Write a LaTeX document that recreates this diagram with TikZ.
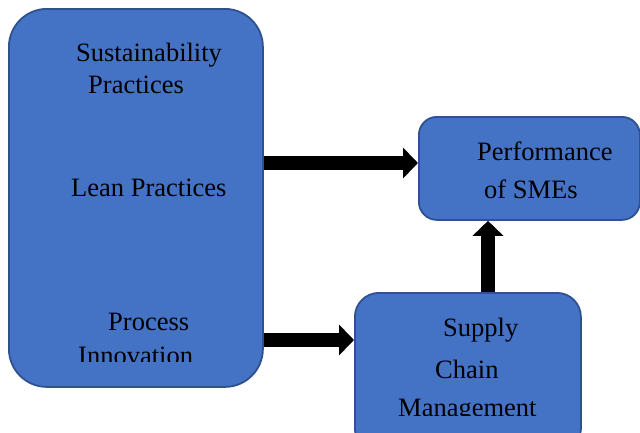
\documentclass[tikz,border=0pt]{standalone}
\usepackage{fontspec}
\setmainfont{Liberation Serif}
\usetikzlibrary{arrows.meta}
\definecolor{boxfill}{HTML}{4472C4}
\definecolor{boxline}{HTML}{2F528F}
\tikzset{
  box/.style={draw=boxline, fill=boxfill, line width=1.8pt, inner sep=0pt, anchor=north west},
  lbl/.style={anchor=base west, inner sep=0pt, font=\fontsize{26.5}{30}\selectfont, text=black},
  fatarrow/.style={line width=14pt, -{Triangle[length=15pt,width=30pt]}, black}
}
\begin{document}
\begin{tikzpicture}[x=1pt,y=-1pt]
\useasboundingbox (0,0) rectangle (640,432);
\clip (0,0) rectangle (640,432);
\fill[white] (0,0) rectangle (640,432);
% boxes
\node[box, rounded corners=38pt, minimum width=254pt, minimum height=378pt] (big) at (8,8) {};
\node[box, rounded corners=18pt, minimum width=221pt, minimum height=103pt] (perf) at (418,116) {};
\node[box, rounded corners=24pt, minimum width=226pt, minimum height=160pt] (scm) at (354,292) {};
% labels
\node[lbl] (t1) at (76,61) {Sustainability};
\node[lbl] (t2) at (88,93) {Practices};
\node[lbl] (t3) at (71,196) {Lean Practices};
\node[lbl] (t4) at (108,330) {Process};
\begin{scope}
\clip (0,0) rectangle (640,361);
\node[lbl] (t5) at (78,364) {Innovation};
\end{scope}
\node[lbl] (t6) at (477,160) {Performance};
\node[lbl] (t7) at (484,198) {of SMEs};
\node[lbl] (t8) at (443,336) {Supply};
\node[lbl] (t9) at (435,378) {Chain};
\begin{scope}
\clip (0,0) rectangle (640,415);
\node[lbl] (t10) at (398,416) {Management};
\end{scope}
% arrows
\draw[fatarrow] (big.east |- 0,163) -- (perf.west |- 0,163);
\draw[fatarrow] (big.east |- 0,340) -- (scm.west |- 0,340);
\draw[fatarrow] (scm.north -| 488,0) -- (perf.south -| 488,0);
\end{tikzpicture}
\end{document}
